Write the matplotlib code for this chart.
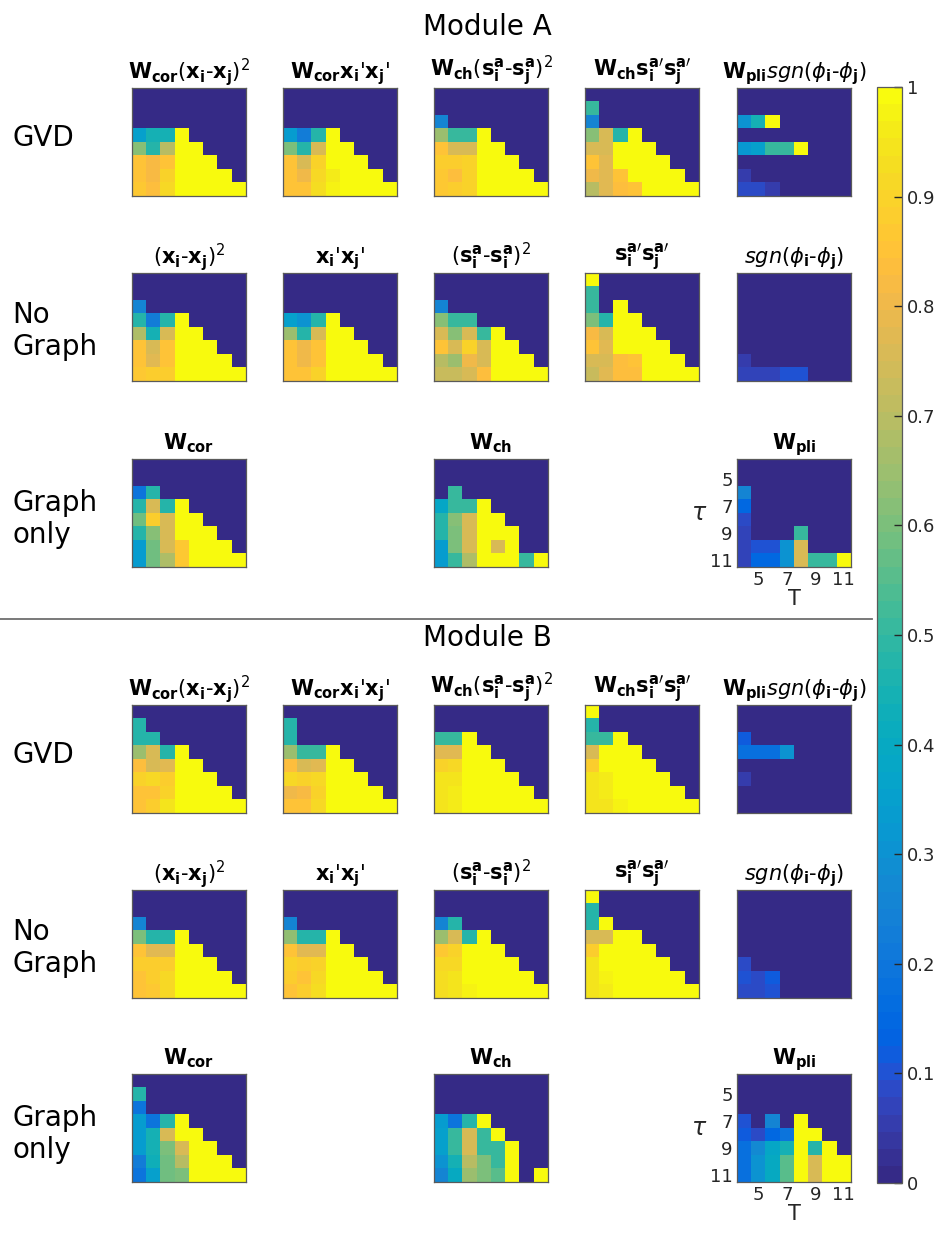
import numpy as np
import matplotlib
matplotlib.use("Agg")
import matplotlib.pyplot as plt
from matplotlib.colors import ListedColormap
from matplotlib.lines import Line2D

# ---------------------------------------------------------------- axes values
T_values = list(range(4, 12))
tau_values = list(range(4, 12))
tick_values = [5, 7, 9, 11]
cbar_ticks = [0, 0.1, 0.2, 0.3, 0.4, 0.5, 0.6, 0.7, 0.8, 0.9, 1]
cbar_labels = ["0", "0.1", "0.2", "0.3", "0.4", "0.5", "0.6", "0.7", "0.8", "0.9", "1"]
Z = [0, 0, 0, 0, 0, 0, 0, 0]

# ---------------------------------------------------------------- Module A
A_gvd_cor_sq = [Z, Z, Z,
                [.35, .45, .45, 1, 0, 0, 0, 0],
                [.62, .47, .70, 1, 1, 0, 0, 0],
                [.85, .82, .85, 1, 1, 1, 0, 0],
                [.85, .82, .90, 1, 1, 1, 1, 0],
                [.86, .84, .92, 1, 1, 1, 1, 1]]
A_gvd_cor_dot = [Z, Z, Z,
                 [.33, .22, .47, 1, 0, 0, 0, 0],
                 [.60, .48, .75, 1, 1, 0, 0, 0],
                 [.85, .75, .90, 1, 1, 1, 0, 0],
                 [.85, .80, .92, .96, 1, 1, 1, 0],
                 [.85, .85, .93, .97, 1, 1, 1, 1]]
A_gvd_ch_sq = [Z, Z,
               [.25, 0, 0, 0, 0, 0, 0, 0],
               [.65, .50, .50, 1, 0, 0, 0, 0],
               [.85, .75, .75, 1, 1, 0, 0, 0],
               [.88, .88, .90, 1, 1, 1, 0, 0],
               [.86, .84, .90, 1, 1, 1, 1, 0],
               [.86, .88, .90, 1, 1, 1, 1, 1]]
A_gvd_ch_dot = [Z,
                [.50, 0, 0, 0, 0, 0, 0, 0],
                [.25, 0, 0, 0, 0, 0, 0, 0],
                [.62, .75, .47, 1, 0, 0, 0, 0],
                [.75, .76, 1, 1, 1, 0, 0, 0],
                [.85, .78, 1, 1, 1, 1, 0, 0],
                [.80, .77, .85, 1, 1, 1, 1, 0],
                [.70, .78, .83, .85, 1, 1, 1, 1]]
A_gvd_pli = [Z, Z,
             [.30, .45, 1, 0, 0, 0, 0, 0],
             Z,
             [.32, .35, .50, .50, 1, 0, 0, 0],
             Z,
             [.05, 0, 0, 0, 0, 0, 0, 0],
             [.08, .08, .06, 0, 0, 0, 0, 0]]

A_ng_cor_sq = [Z, Z,
               [.25, 0, 0, 0, 0, 0, 0, 0],
               [.47, .22, .47, 1, 0, 0, 0, 0],
               [.68, .45, .75, 1, 1, 0, 0, 0],
               [.85, .75, .85, 1, 1, 1, 0, 0],
               [.85, .78, .85, 1, 1, 1, 1, 0],
               [.87, .88, .88, 1, 1, 1, 1, 1]]
A_ng_cor_dot = [Z, Z, Z,
                [.35, .30, .48, 1, 0, 0, 0, 0],
                [.65, .47, .75, 1, 1, 0, 0, 0],
                [.85, .80, .85, 1, 1, 1, 0, 0],
                [.85, .80, .85, 1, 1, 1, 1, 0],
                [.85, .85, .90, 1, 1, 1, 1, 1]]
A_ng_ch_sq = [Z, Z,
              [.25, 0, 0, 0, 0, 0, 0, 0],
              [.62, .50, .50, 0, 0, 0, 0, 0],
              [.75, .62, .75, .50, 1, 0, 0, 0],
              [.85, .75, .90, .75, 1, 1, 0, 0],
              [.70, .65, .80, .75, 1, 1, 1, 0],
              [.72, .72, .75, .83, 1, 1, 1, 1]]
A_ng_ch_dot = [[1, 0, 0, 0, 0, 0, 0, 0],
               [.50, 0, 0, 0, 0, 0, 0, 0],
               [.50, 0, 1, 0, 0, 0, 0, 0],
               [.60, .48, 1, 1, 0, 0, 0, 0],
               [.82, .75, 1, 1, 1, 0, 0, 0],
               [.85, .77, 1, 1, 1, 1, 0, 0],
               [.75, .75, .83, .85, 1, 1, 1, 0],
               [.72, .78, .83, .83, 1, 1, 1, 1]]
A_ng_pli = [Z, Z, Z, Z, Z, Z,
            [.05, 0, 0, 0, 0, 0, 0, 0],
            [.07, .07, .07, .10, .10, 0, 0, 0]]

A_go_cor = [Z, Z,
            [.20, .47, 0, 0, 0, 0, 0, 0],
            [.48, .75, .48, 1, 0, 0, 0, 0],
            [.58, .88, .76, 1, 1, 0, 0, 0],
            [.47, .62, .76, 1, 1, 1, 0, 0],
            [.33, .58, .75, .86, 1, 1, 1, 0],
            [.33, .58, .68, .86, 1, 1, 1, 1]]
A_go_ch = [Z, Z,
           [0, .50, 0, 0, 0, 0, 0, 0],
           [.38, .50, .50, 1, 0, 0, 0, 0],
           [.47, .62, .75, 1, 1, 0, 0, 0],
           [.47, .60, .75, 1, 1, 1, 0, 0],
           [.33, .60, .75, 1, .75, 1, 0, 0],
           [.33, .50, .68, 1, 1, 1, .50, 1]]
A_go_pli = [Z, Z,
            [.25, 0, 0, 0, 0, 0, 0, 0],
            [.15, 0, 0, 0, 0, 0, 0, 0],
            [.08, 0, 0, 0, 0, 0, 0, 0],
            [.07, 0, 0, 0, .50, 0, 0, 0],
            [.07, .10, .10, .30, .75, 0, 0, 0],
            [.07, .15, .15, .30, .75, .50, .50, 1]]

# ---------------------------------------------------------------- Module B
B_gvd_cor_sq = [Z,
                [.48, 0, 0, 0, 0, 0, 0, 0],
                [.48, .47, 0, 0, 0, 0, 0, 0],
                [.65, .75, .48, 1, 0, 0, 0, 0],
                [.83, .76, .78, 1, 1, 0, 0, 0],
                [.90, .92, .88, 1, 1, 1, 0, 0],
                [.85, .85, .90, 1, 1, 1, 1, 0],
                [.85, .88, .95, 1, 1, 1, 1, 1]]
B_gvd_cor_dot = [Z,
                 [.48, 0, 0, 0, 0, 0, 0, 0],
                 [.48, 0, 0, 0, 0, 0, 0, 0],
                 [.65, .50, .50, 1, 0, 0, 0, 0],
                 [.83, .76, .78, 1, 1, 0, 0, 0],
                 [.92, .90, .92, 1, 1, 1, 0, 0],
                 [.80, .82, .90, 1, 1, 1, 1, 0],
                 [.85, .85, .92, 1, 1, 1, 1, 1]]
B_gvd_ch_sq = [Z, Z,
               [.50, .50, 1, 0, 0, 0, 0, 0],
               [.78, .78, 1, 1, 0, 0, 0, 0],
               [.90, .92, 1, 1, 1, 0, 0, 0],
               [.95, .95, 1, 1, 1, 1, 0, 0],
               [.94, .96, 1, 1, 1, 1, 1, 0],
               [.95, .96, 1, 1, 1, 1, 1, 1]]
B_gvd_ch_dot = [[1, 0, 0, 0, 0, 0, 0, 0],
                [.48, 0, 0, 0, 0, 0, 0, 0],
                [.50, .50, 1, 0, 0, 0, 0, 0],
                [.75, 1, 1, 1, 0, 0, 0, 0],
                [.88, 1, 1, 1, 1, 0, 0, 0],
                [.95, .96, 1, 1, 1, 1, 0, 0],
                [.95, .96, 1, 1, 1, 1, 1, 0],
                [.94, .95, .97, 1, 1, 1, 1, 1]]
B_gvd_pli = [Z, Z,
             [.12, 0, 0, 0, 0, 0, 0, 0],
             [.18, .18, .18, .30, 0, 0, 0, 0],
             Z,
             [.05, 0, 0, 0, 0, 0, 0, 0],
             Z, Z]

B_ng_cor_sq = [Z, Z,
               [.25, 0, 0, 0, 0, 0, 0, 0],
               [.60, .48, .48, 1, 0, 0, 0, 0],
               [.85, .78, .78, 1, 1, 0, 0, 0],
               [.88, .88, .88, 1, 1, 1, 0, 0],
               [.85, .88, .92, 1, 1, 1, 1, 0],
               [.85, .87, .92, 1, 1, 1, 1, 1]]
B_ng_cor_dot = [Z, Z,
                [.25, 0, 0, 0, 0, 0, 0, 0],
                [.63, .48, .48, 1, 0, 0, 0, 0],
                [.85, .77, .77, 1, 1, 0, 0, 0],
                [.90, .88, .90, 1, 1, 1, 0, 0],
                [.88, .85, .92, 1, 1, 1, 1, 0],
                [.85, .88, .93, 1, 1, 1, 1, 1]]
B_ng_ch_sq = [Z, Z,
              [.25, .48, 0, 0, 0, 0, 0, 0],
              [.65, .75, .48, 1, 0, 0, 0, 0],
              [.87, .90, 1, 1, 1, 0, 0, 0],
              [.92, .92, 1, 1, 1, 1, 0, 0],
              [.93, .95, 1, 1, 1, 1, 1, 0],
              [.93, .95, .97, 1, 1, 1, 1, 1]]
B_ng_ch_dot = [[1, 0, 0, 0, 0, 0, 0, 0],
               [.48, 0, 0, 0, 0, 0, 0, 0],
               [.48, 1, 0, 0, 0, 0, 0, 0],
               [.75, .75, 1, 1, 0, 0, 0, 0],
               [.88, 1, 1, 1, 1, 0, 0, 0],
               [.94, 1, 1, 1, 1, 1, 0, 0],
               [.95, .97, 1, 1, 1, 1, 1, 0],
               [.94, .96, 1, 1, 1, 1, 1, 1]]
B_ng_pli = [Z, Z, Z, Z, Z,
            [.08, 0, 0, 0, 0, 0, 0, 0],
            [.10, .09, .11, 0, 0, 0, 0, 0],
            [.08, .08, .10, 0, 0, 0, 0, 0]]

B_go_cor = [Z,
            [.48, 0, 0, 0, 0, 0, 0, 0],
            [.20, 0, 0, 0, 0, 0, 0, 0],
            [.33, .20, .48, 1, 0, 0, 0, 0],
            [.33, .45, .75, 1, 1, 0, 0, 0],
            [.33, .45, .60, .75, 1, 1, 0, 0],
            [.22, .43, .58, .70, 1, 1, 1, 0],
            [.20, .35, .58, .60, 1, 1, 1, 1]]
B_go_ch = [Z, Z, Z,
           [.33, .20, .48, 1, 0, 0, 0, 0],
           [.35, .50, .75, .50, 1, 0, 0, 0],
           [.35, .50, .75, .50, .50, 1, 0, 0],
           [.30, .45, .70, .60, .50, 1, 0, 0],
           [.25, .40, .65, .60, .55, 1, 0, 1]]
B_go_pli = [Z, Z, Z,
            [.10, 0, .25, 0, 1, 0, 0, 0],
            [.12, .08, .15, .20, 1, 1, 0, 0],
            [.18, .28, .38, .45, 1, .48, 1, 0],
            [.18, .30, .40, .55, 1, .75, 1, 1],
            [.18, .30, .40, .55, 1, .75, 1, 1]]

# ---------------------------------------------------------------- titles
t_cor_sq = r"$\mathbf{W}_{\mathbf{cor}}(\mathbf{x}_{\mathbf{i}}$-$\mathbf{x}_{\mathbf{j}})^{2}$"
t_cor_dot = r"$\mathbf{W}_{\mathbf{cor}}\mathbf{x}_{\mathbf{i}}$'$\mathbf{x}_{\mathbf{j}}$'"
t_ch_sq = r"$\mathbf{W}_{\mathbf{ch}}(\mathbf{s}^{\mathbf{a}}_{\mathbf{i}}$-$\mathbf{s}^{\mathbf{a}}_{\mathbf{j}})^{2}$"
t_ch_dot = r"$\mathbf{W}_{\mathbf{ch}}\mathbf{s}^{\mathbf{a}\prime}_{\mathbf{i}}\mathbf{s}^{\mathbf{a}\prime}_{\mathbf{j}}$"
t_pli = r"$\mathbf{W}_{\mathbf{pli}}\mathit{sgn}(\phi_{\mathbf{i}}$-$\phi_{\mathbf{j}})$"
n_cor_sq = r"$(\mathbf{x}_{\mathbf{i}}$-$\mathbf{x}_{\mathbf{j}})^{2}$"
n_cor_dot = r"$\mathbf{x}_{\mathbf{i}}$'$\mathbf{x}_{\mathbf{j}}$'"
n_ch_sq = r"$(\mathbf{s}^{\mathbf{a}}_{\mathbf{i}}$-$\mathbf{s}^{\mathbf{a}}_{\mathbf{i}})^{2}$"
n_ch_dot = r"$\mathbf{s}^{\mathbf{a}\prime}_{\mathbf{i}}\mathbf{s}^{\mathbf{a}\prime}_{\mathbf{j}}$"
n_pli = r"$\mathit{sgn}(\phi_{\mathbf{i}}$-$\phi_{\mathbf{j}})$"
g_cor = r"$\mathbf{W}_{\mathbf{cor}}$"
g_ch = r"$\mathbf{W}_{\mathbf{ch}}$"
g_pli = r"$\mathbf{W}_{\mathbf{pli}}$"

row_labels = ["GVD", "No\nGraph", "Graph\nonly"]

# ---------------------------------------------------------------- colormap
PARULA = [
    [0.2081, 0.1663, 0.5292], [0.2116, 0.1898, 0.5777], [0.2123, 0.2138, 0.6270],
    [0.2081, 0.2386, 0.6771], [0.1959, 0.2645, 0.7279], [0.1707, 0.2919, 0.7792],
    [0.1253, 0.3242, 0.8303], [0.0591, 0.3598, 0.8683], [0.0117, 0.3875, 0.8820],
    [0.0060, 0.4086, 0.8828], [0.0165, 0.4266, 0.8786], [0.0329, 0.4430, 0.8720],
    [0.0498, 0.4586, 0.8641], [0.0629, 0.4737, 0.8554], [0.0723, 0.4887, 0.8467],
    [0.0779, 0.5040, 0.8384], [0.0793, 0.5200, 0.8312], [0.0749, 0.5375, 0.8263],
    [0.0641, 0.5570, 0.8240], [0.0488, 0.5772, 0.8228], [0.0343, 0.5966, 0.8199],
    [0.0265, 0.6137, 0.8135], [0.0239, 0.6287, 0.8038], [0.0231, 0.6418, 0.7913],
    [0.0228, 0.6535, 0.7768], [0.0267, 0.6642, 0.7607], [0.0384, 0.6743, 0.7436],
    [0.0590, 0.6838, 0.7254], [0.0843, 0.6928, 0.7062], [0.1133, 0.7015, 0.6859],
    [0.1453, 0.7098, 0.6646], [0.1801, 0.7177, 0.6424], [0.2178, 0.7250, 0.6193],
    [0.2586, 0.7317, 0.5954], [0.3022, 0.7376, 0.5712], [0.3482, 0.7424, 0.5473],
    [0.3953, 0.7459, 0.5244], [0.4420, 0.7481, 0.5033], [0.4871, 0.7491, 0.4840],
    [0.5300, 0.7491, 0.4661], [0.5709, 0.7485, 0.4494], [0.6099, 0.7473, 0.4337],
    [0.6473, 0.7456, 0.4188], [0.6834, 0.7435, 0.4044], [0.7184, 0.7411, 0.3905],
    [0.7525, 0.7384, 0.3768], [0.7858, 0.7356, 0.3633], [0.8185, 0.7327, 0.3498],
    [0.8507, 0.7299, 0.3360], [0.8824, 0.7274, 0.3217], [0.9139, 0.7258, 0.3063],
    [0.9450, 0.7261, 0.2886], [0.9739, 0.7314, 0.2666], [0.9938, 0.7455, 0.2403],
    [0.9990, 0.7653, 0.2164], [0.9955, 0.7861, 0.1967], [0.9880, 0.8066, 0.1794],
    [0.9789, 0.8271, 0.1633], [0.9697, 0.8481, 0.1475], [0.9626, 0.8705, 0.1309],
    [0.9589, 0.8949, 0.1132], [0.9598, 0.9218, 0.0948], [0.9661, 0.9514, 0.0755],
    [0.9763, 0.9831, 0.0538]]
parula = ListedColormap(PARULA, name="parula")

# ---------------------------------------------------------------- layout
plt.rcParams["font.family"] = ["DejaVu Sans"]
plt.rcParams["mathtext.fontset"] = "dejavusans"
FW, FH = 942, 1237
fig = plt.figure(figsize=(FW / 100, FH / 100), dpi=100)
TXT = "#262626"


def px_axes(x, y, w, h):
    return fig.add_axes([x / FW, 1 - (y + h) / FH, w / FW, h / FH])


col_x = [132, 283, 434, 585, 737]
HW, HH = 114, 108
row_y = {"A": [88, 273, 459], "B": [705, 890, 1074]}
label_dy = [50, 58, 60]

panels = {
    "A": [
        [(A_gvd_cor_sq, t_cor_sq), (A_gvd_cor_dot, t_cor_dot), (A_gvd_ch_sq, t_ch_sq),
         (A_gvd_ch_dot, t_ch_dot), (A_gvd_pli, t_pli)],
        [(A_ng_cor_sq, n_cor_sq), (A_ng_cor_dot, n_cor_dot), (A_ng_ch_sq, n_ch_sq),
         (A_ng_ch_dot, n_ch_dot), (A_ng_pli, n_pli)],
        [(A_go_cor, g_cor), None, (A_go_ch, g_ch), None, (A_go_pli, g_pli)],
    ],
    "B": [
        [(B_gvd_cor_sq, t_cor_sq), (B_gvd_cor_dot, t_cor_dot), (B_gvd_ch_sq, t_ch_sq),
         (B_gvd_ch_dot, t_ch_dot), (B_gvd_pli, t_pli)],
        [(B_ng_cor_sq, n_cor_sq), (B_ng_cor_dot, n_cor_dot), (B_ng_ch_sq, n_ch_sq),
         (B_ng_ch_dot, n_ch_dot), (B_ng_pli, n_pli)],
        [(B_go_cor, g_cor), None, (B_go_ch, g_ch), None, (B_go_pli, g_pli)],
    ],
}

extent = (T_values[0] - 0.5, T_values[-1] + 0.5, tau_values[-1] + 0.5, tau_values[0] - 0.5)
image = None
for module in ("A", "B"):
    for r, row in enumerate(panels[module]):
        y0 = row_y[module][r]
        for c, cell in enumerate(row):
            if cell is None:
                continue
            data, title = cell
            ax = px_axes(col_x[c], y0, HW, HH)
            image = ax.imshow(np.array(data, dtype=float), cmap=parula, vmin=0, vmax=1,
                              extent=extent, aspect="auto", interpolation="nearest")
            ax.set_title(title, fontsize=15, color="black", pad=7)
            for sp in ax.spines.values():
                sp.set_color("#5a5a5a")
                sp.set_linewidth(0.9)
            if r == 2 and c == 4:
                ax.set_xticks(tick_values)
                ax.set_yticks(tick_values)
                ax.set_xticklabels([str(v) for v in tick_values])
                ax.set_yticklabels([str(v) for v in tick_values])
                ax.tick_params(length=0, labelsize=13, colors=TXT, pad=3)
                ax.set_xlabel("T", fontsize=15, color=TXT, labelpad=0)
                ax.set_ylabel(r"$\tau$", fontsize=17, color=TXT, rotation=0,
                              labelpad=8, va="center")
            else:
                ax.set_xticks([])
                ax.set_yticks([])
        # row label
        fig.text(12 / FW, 1 - (y0 + label_dy[r]) / FH, row_labels[r], fontsize=20,
                 color="black", ha="left", va="center", linespacing=1.15)

fig.text(487 / FW, 1 - 27 / FH, "Module A", fontsize=20, ha="center", va="center")
fig.text(487 / FW, 1 - 638 / FH, "Module B", fontsize=20, ha="center", va="center")
fig.add_artist(Line2D([0, 872 / FW], [1 - 619 / FH, 1 - 619 / FH],
                      color="#6e6e6e", lw=1.3))

# colour bar
cax = px_axes(877, 87, 25, 1096)
cb = fig.colorbar(image, cax=cax, ticks=cbar_ticks)
cb.ax.set_yticklabels(cbar_labels)
cb.ax.tick_params(labelsize=13, colors=TXT, length=6, width=1, direction="in")
cb.outline.set_edgecolor("#5a5a5a")
cb.outline.set_linewidth(0.9)

fig.savefig("out.png", dpi=100)
